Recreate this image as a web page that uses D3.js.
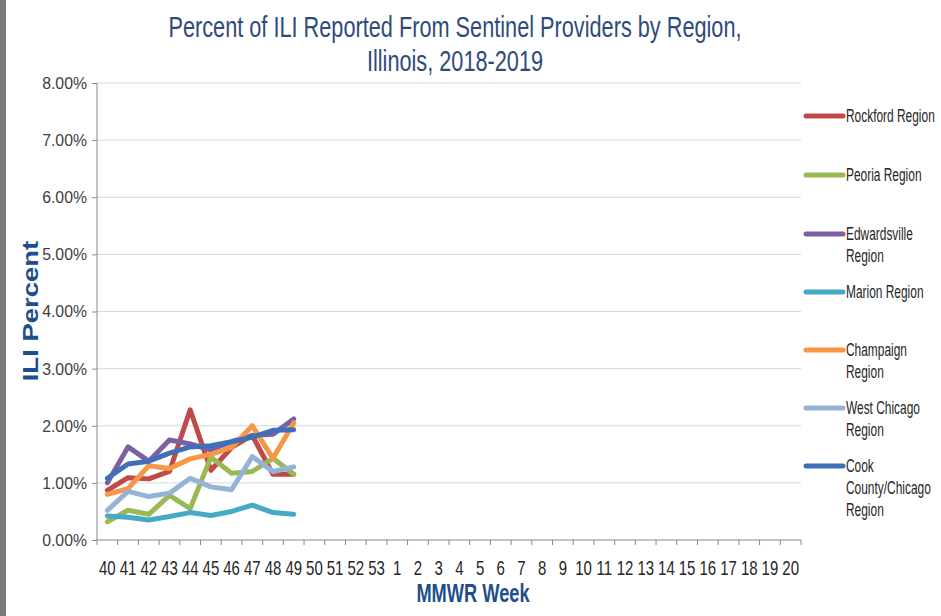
<!DOCTYPE html>
<html>
<head>
<meta charset="utf-8">
<script src="https://cdn.jsdelivr.net/npm/d3@7"></script>
<style>
  body { margin: 0; background: #fff; }
  svg { display: block; }
</style>
</head>
<body>
<svg id="chart" width="941" height="616"></svg>
<script>
// Data
var weeks = ["40","41","42","43","44","45","46","47","48","49","50","51","52","53",
  "1","2","3","4","5","6","7","8","9","10","11","12","13","14","15","16","17","18","19","20"];
var reported = ["40","41","42","43","44","45","46","47","48","49"];
var yTicks = [0, 1, 2, 3, 4, 5, 6, 7, 8];

var regions = ["Rockford Region", "Peoria Region", "Edwardsville Region", "Marion Region",
  "Champaign Region", "West Chicago Region", "Cook County/Chicago Region"];
var rockford     = [0.87, 1.09, 1.07, 1.20, 2.28, 1.22, 1.62, 1.83, 1.15, 1.15];
var peoria       = [0.32, 0.52, 0.45, 0.78, 0.55, 1.45, 1.17, 1.20, 1.43, 1.15];
var edwardsville = [1.00, 1.63, 1.38, 1.75, 1.68, 1.58, 1.72, 1.83, 1.85, 2.12];
var marion       = [0.42, 0.40, 0.35, 0.41, 0.48, 0.43, 0.50, 0.61, 0.48, 0.45];
var champaign    = [0.80, 0.90, 1.30, 1.25, 1.42, 1.50, 1.62, 2.00, 1.43, 2.05];
var westChicago  = [0.52, 0.85, 0.76, 0.82, 1.08, 0.93, 0.88, 1.46, 1.20, 1.28];
var cookCounty   = [1.08, 1.33, 1.38, 1.52, 1.63, 1.65, 1.72, 1.80, 1.92, 1.93];

var seriesValues = [rockford, peoria, edwardsville, marion, champaign, westChicago, cookCounty];
var colors = ["#be4b48", "#98b954", "#7d60a0", "#46aac5", "#f79646", "#95b3d7", "#3f6fb8"];
// legend text broken into lines like the original
var legendLines = [["Rockford Region"], ["Peoria Region"], ["Edwardsville", "Region"], ["Marion Region"],
  ["Champaign", "Region"], ["West Chicago", "Region"], ["Cook", "County/Chicago", "Region"]];

var svg = d3.select("#chart");
var font = "'Liberation Sans', Arial, sans-serif";

// the original text is a condensed face, so squeeze text horizontally
function label(px, py, s, txt, size) {
  return svg.append("text")
    .attr("transform", "translate(" + px + "," + py + ") scale(" + s + ",1)")
    .style("font-family", font)
    .style("font-size", size + "px")
    .text(txt);
}

// left grey strip from the screenshot
svg.append("rect").attr("x", 0).attr("y", 0).attr("width", 6).attr("height", 616).attr("fill", "#7a7a7a");

// Scales
var x = d3.scaleBand().domain(weeks).range([97, 801]).padding(0);
var y = d3.scaleLinear().domain([0, 8]).range([540, 83]);

// Gridlines
svg.append("g")
  .selectAll("line")
  .data(yTicks.filter(d => d > 0))
  .enter()
  .append("line")
  .attr("x1", 97).attr("x2", 801)
  .attr("y1", d => y(d)).attr("y2", d => y(d))
  .attr("stroke", "#d9d9d9").attr("stroke-width", 1);

// Y axis
var yAxis = svg.append("g")
  .attr("transform", "translate(97,0)")
  .call(d3.axisLeft(y).tickValues(yTicks).tickSize(5).tickFormat(d => d.toFixed(2) + "%"));
yAxis.select(".domain").attr("stroke", "#888").attr("d", "M0," + y(8) + "V" + y(0));
yAxis.selectAll(".tick line").attr("stroke", "#888");
yAxis.selectAll("text")
  .attr("x", -10 / 0.93)
  .attr("transform", "scale(0.93,1)")
  .style("font-family", font).style("font-size", "17px").attr("fill", "#404040");

// X axis
var xAxis = svg.append("g")
  .attr("transform", "translate(0,540)")
  .call(d3.axisBottom(x).tickSize(0));
xAxis.select(".domain").attr("stroke", "#888").attr("d", "M97,0H801");
xAxis.selectAll("text")
  .attr("y", 35).attr("dy", 0)
  .attr("transform", "scale(0.75,1)")
  .style("font-family", font).style("font-size", "20px").attr("fill", "#262626");
// tick marks between categories
xAxis.selectAll(".boundary")
  .data(weeks.concat(["end"]))
  .enter()
  .append("line")
  .attr("x1", d => d === "end" ? x.range()[1] : x(d))
  .attr("x2", d => d === "end" ? x.range()[1] : x(d))
  .attr("y1", 0).attr("y2", 5)
  .attr("stroke", "#888");

// Lines
var line = d3.line()
  .x((d, i) => x(reported[i]) + x.bandwidth() / 2)
  .y(d => y(d));

svg.append("g")
  .selectAll("path")
  .data(seriesValues)
  .enter()
  .append("path")
  .attr("d", d => line(d))
  .attr("fill", "none")
  .attr("stroke", (d, i) => colors[i])
  .attr("stroke-width", 5)
  .attr("stroke-linejoin", "round")
  .attr("stroke-linecap", "round");

// Legend
var legendY = [116, 175, 234, 292, 350, 408, 466];
var legend = svg.append("g")
  .selectAll("g")
  .data(regions)
  .enter()
  .append("g")
  .attr("transform", (d, i) => "translate(806," + legendY[i] + ")");

legend.append("line")
  .attr("x1", 0).attr("x2", 37).attr("y1", 0).attr("y2", 0)
  .attr("stroke", (d, i) => colors[i])
  .attr("stroke-width", 5)
  .attr("stroke-linecap", "round");

legend.append("text")
  .attr("transform", "translate(40,6) scale(0.645,1)")
  .style("font-family", font)
  .style("font-size", "18.5px")
  .attr("fill", "#262626")
  .selectAll("tspan")
  .data((d, i) => legendLines[i])
  .enter()
  .append("tspan")
  .attr("x", 0)
  .attr("dy", (d, j) => j === 0 ? 0 : 22)
  .text(d => d);

// Titles
label(455, 37, 0.724, "Percent of ILI Reported From Sentinel Providers by Region,", 30)
  .attr("text-anchor", "middle").attr("fill", "#2f4b7c");
label(455, 71, 0.724, "Illinois, 2018-2019", 30)
  .attr("text-anchor", "middle").attr("fill", "#2f4b7c");

svg.append("text")
  .attr("transform", "translate(38,311) rotate(-90) scale(1.25,1)")
  .attr("text-anchor", "middle")
  .style("font-family", font)
  .style("font-size", "22px").style("font-weight", "bold")
  .attr("fill", "#1f4e8c")
  .text("ILI Percent");

label(473, 602, 0.73, "MMWR Week", 25)
  .attr("text-anchor", "middle")
  .style("font-weight", "bold")
  .attr("fill", "#1f4e8c");
</script>
</body>
</html>
